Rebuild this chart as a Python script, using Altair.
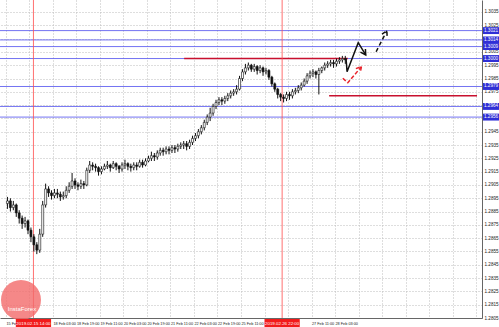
import altair as alt
import pandas as pd

# ---------------- data ----------------
closes = [1.2893, 1.2888, 1.2890, 1.2884, 1.2880, 1.2876, 1.2878, 1.2871, 1.2866, 1.2860,
          1.2856, 1.2868, 1.2890, 1.2902, 1.2899, 1.2897, 1.2899, 1.2898, 1.2896, 1.2897,
          1.2901, 1.2904, 1.2908, 1.2905, 1.2904, 1.2906, 1.2905, 1.2916, 1.2920, 1.2919,
          1.2918, 1.2915, 1.2917, 1.2919, 1.2920, 1.2918, 1.2921, 1.2919, 1.2917, 1.2920,
          1.2921, 1.2919, 1.2918, 1.2920, 1.2919, 1.2922, 1.2920, 1.2923, 1.2925, 1.2927,
          1.2926, 1.2929, 1.2931, 1.2930, 1.2932, 1.2931, 1.2933, 1.2932, 1.2934, 1.2935,
          1.2936, 1.2934, 1.2937, 1.2940, 1.2942, 1.2945, 1.2948, 1.2952, 1.2956, 1.2959,
          1.2964, 1.2967, 1.2969, 1.2968, 1.2970, 1.2972, 1.2974, 1.2975, 1.2977, 1.2985,
          1.2990, 1.2993, 1.2995, 1.2992, 1.2994, 1.2991, 1.2993, 1.2990, 1.2991, 1.2986,
          1.2981, 1.2977, 1.2973, 1.2971, 1.2970, 1.2973, 1.2972, 1.2975, 1.2976, 1.2978,
          1.2980, 1.2983, 1.2987, 1.2989, 1.2990, 1.2988, 1.2991, 1.2993, 1.2995, 1.2996,
          1.2997, 1.2996, 1.2998, 1.2999, 1.3000, 1.2999]
highs = [1.2896, 1.2895, 1.2893, 1.2891, 1.2886, 1.2882, 1.2881, 1.2879, 1.2873, 1.2868,
         1.2862, 1.2872, 1.2893, 1.2906, 1.2904, 1.2901, 1.2902, 1.2902, 1.2900, 1.2900,
         1.2904, 1.2907, 1.2914, 1.2910, 1.2907, 1.2909, 1.2908, 1.2918, 1.2923, 1.2922,
         1.2921, 1.2919, 1.2919, 1.2921, 1.2923, 1.2921, 1.2923, 1.2922, 1.2920, 1.2922,
         1.2924, 1.2922, 1.2921, 1.2922, 1.2922, 1.2924, 1.2924, 1.2925, 1.2927, 1.2930,
         1.2929, 1.2931, 1.2933, 1.2933, 1.2934, 1.2934, 1.2935, 1.2935, 1.2936, 1.2937,
         1.2938, 1.2938, 1.2939, 1.2942, 1.2944, 1.2947, 1.2950, 1.2954, 1.2958, 1.2963,
         1.2966, 1.2969, 1.2971, 1.2971, 1.2972, 1.2974, 1.2976, 1.2977, 1.2980, 1.2987,
         1.2992, 1.2996, 1.2997, 1.2996, 1.2996, 1.2995, 1.2995, 1.2994, 1.2993, 1.2992,
         1.2987, 1.2982, 1.2978, 1.2974, 1.2973, 1.2975, 1.2975, 1.2977, 1.2978, 1.2980,
         1.2982, 1.2985, 1.2989, 1.2991, 1.2992, 1.2991, 1.2993, 1.2994, 1.2997, 1.2998,
         1.2999, 1.2999, 1.3000, 1.3001, 1.3002, 1.3002]
lows = [1.2887, 1.2885, 1.2886, 1.2881, 1.2876, 1.2872, 1.2873, 1.2868, 1.2862, 1.2855,
        1.2853, 1.2854, 1.2866, 1.2888, 1.2896, 1.2894, 1.2895, 1.2895, 1.2893, 1.2894,
        1.2895, 1.2899, 1.2902, 1.2902, 1.2901, 1.2902, 1.2902, 1.2904, 1.2914, 1.2916,
        1.2915, 1.2912, 1.2913, 1.2916, 1.2917, 1.2915, 1.2917, 1.2916, 1.2914, 1.2915,
        1.2917, 1.2916, 1.2915, 1.2916, 1.2916, 1.2918, 1.2918, 1.2919, 1.2922, 1.2923,
        1.2923, 1.2924, 1.2927, 1.2927, 1.2928, 1.2928, 1.2929, 1.2929, 1.2930, 1.2932,
        1.2932, 1.2931, 1.2932, 1.2935, 1.2938, 1.2940, 1.2943, 1.2946, 1.2950, 1.2953,
        1.2957, 1.2962, 1.2965, 1.2965, 1.2966, 1.2968, 1.2970, 1.2972, 1.2973, 1.2976,
        1.2983, 1.2988, 1.2991, 1.2990, 1.2990, 1.2988, 1.2989, 1.2987, 1.2988, 1.2984,
        1.2979, 1.2975, 1.2970, 1.2968, 1.2967, 1.2968, 1.2969, 1.2970, 1.2973, 1.2974,
        1.2976, 1.2979, 1.2981, 1.2985, 1.2986, 1.2985, 1.2973, 1.2989, 1.2991, 1.2993,
        1.2994, 1.2993, 1.2994, 1.2996, 1.2997, 1.2996]
first_open = 1.2891

y_ticks = [1.2805, 1.2815, 1.2825, 1.2835, 1.2845, 1.2855, 1.2865, 1.2875,
           1.2885, 1.2895, 1.2905, 1.2915, 1.2925, 1.2935, 1.2945, 1.2955,
           1.2965, 1.2975, 1.2985, 1.2995, 1.3005, 1.3015, 1.3025, 1.3035]
y_tick_labels = ["1.2805", "1.2815", "1.2825", "1.2835", "1.2845", "1.2855", "1.2865", "1.2875",
                 "1.2885", "1.2895", "1.2905", "1.2915", "1.2925", "1.2935", "1.2945", "",
                 "", "1.2975", "1.2985", "1.2995", "1.3005", "", "1.3025", "1.3035"]

x_tick_hours = [0, 16, 32, 48, 64, 80, 96, 112, 128, 144, 160, 176, 192, 208,
                224, 240, 256, 272, 288, 304, 320]
x_tick_labels = ["15 Feb 2019", "", "18 Feb 03:00", "18 Feb 19:00",
                 "19 Feb 11:00", "20 Feb 03:00", "20 Feb 19:00", "21 Feb 11:00",
                 "22 Feb 03:00", "22 Feb 19:00", "25 Feb 11:00", "",
                 "", "27 Feb 11:00", "28 Feb 03:00", "", "", "", "", "", ""]

blue_levels = [1.3021, 1.3014, 1.3009, 1.3000, 1.2979, 1.2964, 1.2956]
red_levels = [1.3000, 1.2972]
red_start = [121.3, 220.0]
red_end = [232.7, 320.67]

vline_hours = [18.7, 188.0]
vline_labels = ["2019.02.15 14:00", "2019.02.26 22:00"]

# annotation arrows (hour, price)
arrow_seg = ["k1", "k1", "k1", "k1", "kb1", "kb1", "kb1",
             "k2", "k2", "kb2", "kb2", "kb2",
             "r1", "r1", "r1", "rb1", "rb1", "rb1"]
arrow_h = [231.5, 232.2, 239.8, 244.9, 244.7, 244.9, 241.3,
           252.0, 259.3, 256.0, 259.3, 259.5,
           229.3, 232.7, 242.0, 238.2, 242.0, 241.2]
arrow_p = [1.30002, 1.29901, 1.30119, 1.30027, 1.30072, 1.30027, 1.30048,
           1.30051, 1.30209, 1.30184, 1.30209, 1.30164,
           1.29852, 1.29818, 1.29939, 1.29924, 1.29939, 1.29894]
arrow_kind = ["solid"] * 7 + ["dash"] * 5 + ["red"] * 6

# ---------------- frames ----------------
n = len(closes)
hours = [2 * i + 1 for i in range(n)]
opens = [first_open] + closes[:-1]
candles = pd.DataFrame({"hour": hours, "open": opens, "close": closes,
                        "high": highs, "low": lows})
candles["bull"] = candles["close"] >= candles["open"]

blue_df = pd.DataFrame({"price": blue_levels})
blue_df["top"] = blue_df["price"] + 0.00026
blue_df["bot"] = blue_df["price"] - 0.00026
blue_df["lab"] = [f"{p:.4f}" for p in blue_levels]

red_df = pd.DataFrame({"price": red_levels, "x1": red_start, "x2": red_end})
vl_df = pd.DataFrame({"hour": vline_hours, "lab": vline_labels})
vl_df["x1"] = vl_df["hour"] - 12
vl_df["x2"] = vl_df["hour"] + 12

arr_df = pd.DataFrame({"seg": arrow_seg, "hour": arrow_h, "price": arrow_p,
                       "kind": arrow_kind})
arr_df["ord"] = range(len(arr_df))

xs = alt.Scale(domain=[-0.667, 320.667], nice=False, zero=False)
ys = alt.Scale(domain=[1.2805, 1.3044], nice=False, zero=False)

x_label_expr = ("[" + ",".join("'" + s + "'" for s in x_tick_labels) + "]"
                "[indexof([" + ",".join(str(v) for v in x_tick_hours) + "], datum.value)]")
y_label_expr = ("[" + ",".join("'" + s + "'" for s in y_tick_labels) + "]"
                "[indexof([" + ",".join(f"{v:.4f}" for v in y_ticks) + "], round(datum.value*10000)/10000)]")

x_axis = alt.Axis(values=x_tick_hours, tickCount=len(x_tick_hours), labelExpr=x_label_expr,
                  title=None, grid=True, gridDash=[1, 2], gridColor="#bdbdbd",
                  labelFontSize=3.8, labelAlign="left", labelPadding=3,
                  labelColor="#222", labelFont="Liberation Sans",
                  tickSize=0, domainColor="#666", labelOverlap=False,
                  labelFlush=False, zindex=0)
y_axis = alt.Axis(values=y_ticks, tickCount=len(y_ticks), labelExpr=y_label_expr,
                  orient="right", title=None, grid=True, gridDash=[1, 2], gridColor="#bdbdbd",
                  labelFontSize=4.6, labelPadding=2, labelColor="#222",
                  labelFont="Liberation Sans", tickSize=0, domainColor="#666",
                  labelOverlap=False, labelFlush=False, zindex=0)

base = alt.Chart(candles)

grid = base.mark_rule(opacity=0).encode(
    x=alt.X("hour:Q", scale=xs, axis=x_axis),
    y=alt.Y("low:Q", scale=ys, axis=y_axis),
)

blue_rules = alt.Chart(blue_df).mark_rule(color="#5a5af0", strokeWidth=1, opacity=0.85).encode(
    y=alt.Y("price:Q", scale=ys))

red_rules = alt.Chart(red_df).mark_rule(color="#c8102e", strokeWidth=1.5).encode(
    x=alt.X("x1:Q", scale=xs), x2="x2:Q", y=alt.Y("price:Q", scale=ys))

vlines = alt.Chart(vl_df).mark_rule(color="#ff4d4d", strokeWidth=1, opacity=0.8).encode(
    x=alt.X("hour:Q", scale=xs))

wicks = base.mark_rule(color="#111", strokeWidth=1).encode(
    x=alt.X("hour:Q", scale=xs), y=alt.Y("low:Q", scale=ys), y2="high:Q")

bodies = base.mark_bar(size=2, stroke="#111", strokeWidth=0.6).encode(
    x=alt.X("hour:Q", scale=xs), y=alt.Y("open:Q", scale=ys), y2="close:Q",
    fill=alt.condition("datum.bull", alt.value("#ffffff"), alt.value("#111111")))

arr_solid = alt.Chart(arr_df).transform_filter("datum.kind == 'solid'").mark_line(
    color="#111", strokeWidth=1.5).encode(
    x=alt.X("hour:Q", scale=xs), y=alt.Y("price:Q", scale=ys), detail="seg:N", order="ord:Q")
arr_dash = alt.Chart(arr_df).transform_filter("datum.kind == 'dash'").mark_line(
    color="#111", strokeWidth=1.5, strokeDash=[4, 3]).encode(
    x=alt.X("hour:Q", scale=xs), y=alt.Y("price:Q", scale=ys), detail="seg:N", order="ord:Q")
arr_red = alt.Chart(arr_df).transform_filter("datum.kind == 'red'").mark_line(
    color="#e8232b", strokeWidth=1.5, strokeDash=[4, 2]).encode(
    x=alt.X("hour:Q", scale=xs), y=alt.Y("price:Q", scale=ys), detail="seg:N", order="ord:Q")

lab_boxes = alt.Chart(blue_df).mark_rect(color="#2f2fd6").encode(
    x=alt.value(483), x2=alt.value(499), y=alt.Y("top:Q", scale=ys), y2="bot:Q")
lab_text = alt.Chart(blue_df).mark_text(color="white", fontSize=4.6, align="left",
                                        font="Liberation Sans").encode(
    x=alt.value(484), y=alt.Y("price:Q", scale=ys), text="lab:N")

vl_boxes = alt.Chart(vl_df).mark_rect(color="#f21b1b").encode(
    x=alt.X("x1:Q", scale=xs), x2="x2:Q", y=alt.value(319), y2=alt.value(327))
vl_text = alt.Chart(vl_df).mark_text(color="white", fontSize=4.4, font="Liberation Sans").encode(
    x=alt.X("hour:Q", scale=xs), y=alt.value(323.5), text="lab:N")

logo_df = pd.DataFrame({"t": ["InstaForex"]})
logo = alt.Chart(logo_df).mark_point(filled=True, shape="circle", size=1600,
                                     color="#f26a6a", opacity=0.8).encode(
    x=alt.value(21), y=alt.value(300))
logo_text = alt.Chart(logo_df).mark_text(color="white", fontSize=6,
                                         font="Liberation Sans").encode(
    x=alt.value(22), y=alt.value(309), text="t:N")

chart = alt.layer(grid, blue_rules, red_rules, vlines, logo, logo_text,
                  wicks, bodies, arr_solid, arr_dash, arr_red,
                  lab_boxes, lab_text, vl_boxes, vl_text).properties(
    width=482, height=318,
    padding={"left": 0, "top": 0, "right": 17, "bottom": 9},
    autosize="none",
    background="white",
).configure_view(stroke=None)

chart.save("out.html", embed_options={"renderer": "svg", "actions": False})
